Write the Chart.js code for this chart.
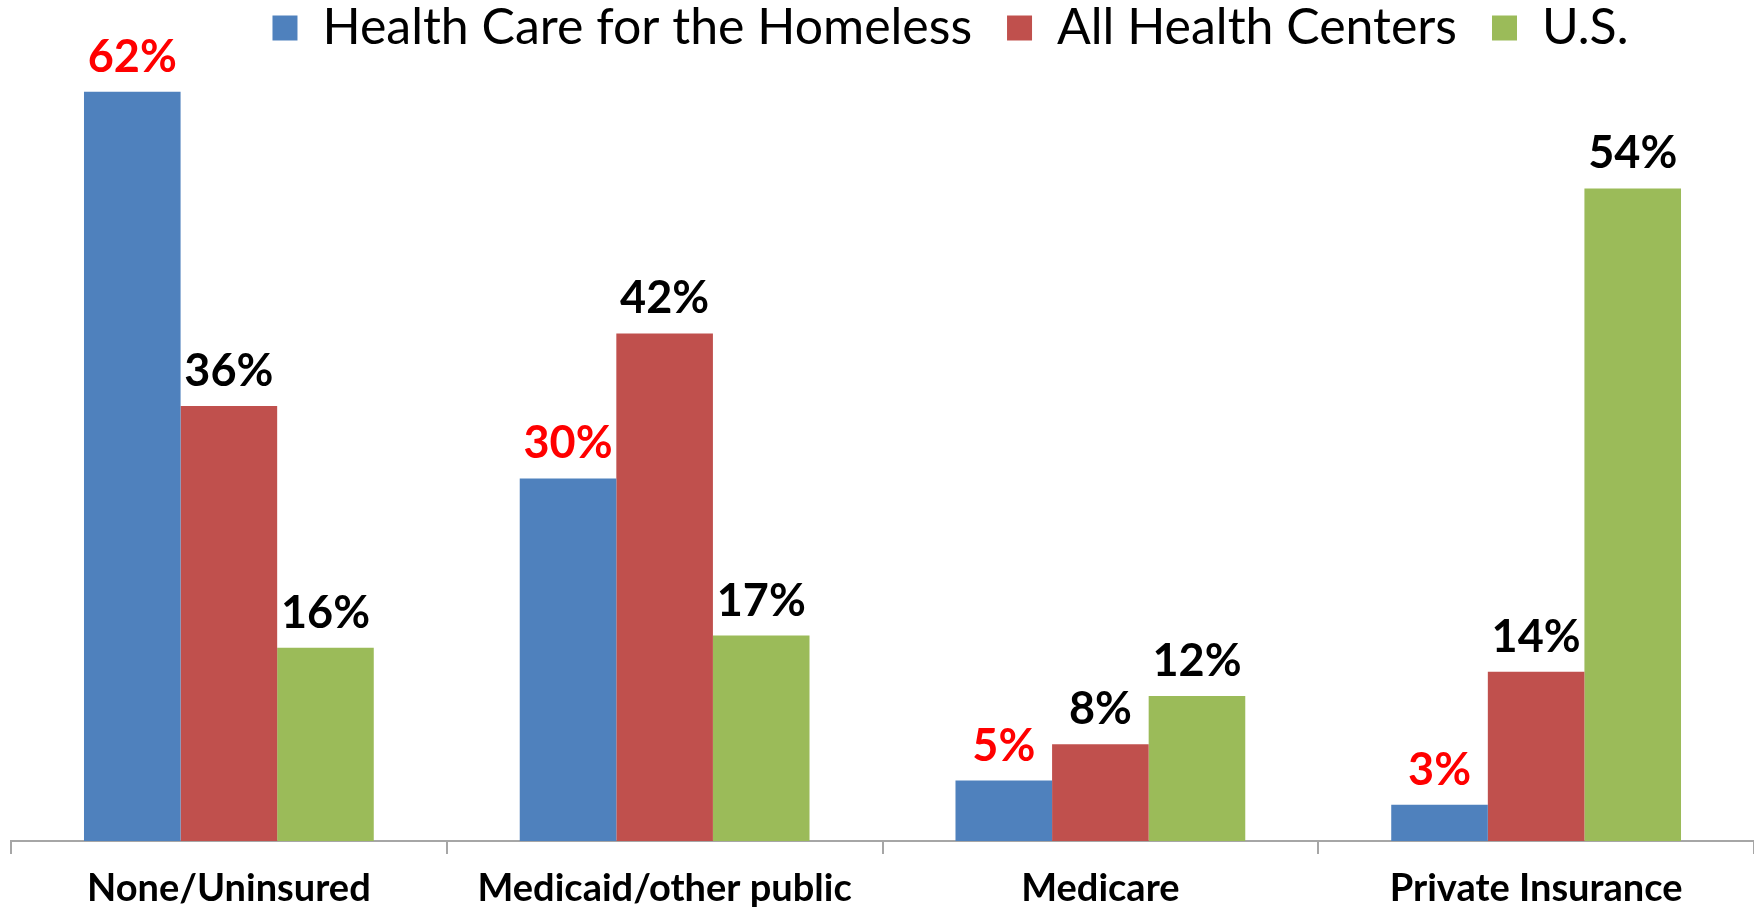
<!DOCTYPE html>
<html>
<head>
<meta charset="utf-8">
<script src="https://cdn.jsdelivr.net/npm/chart.js@4.4.1/dist/chart.umd.min.js"></script>
<style>
    html, body { margin: 0; padding: 0; background: #fff; }
    #wrap { width: 1754px; height: 908px; }
</style>
</head>
<body>
<div id="wrap"><canvas id="payerChart" width="1754" height="908"></canvas></div>
<script>
// ═══════════════ DATA ═══════════════

const categories = ['None/Uninsured', 'Medicaid/other public', 'Medicare', 'Private Insurance'];
const seriesNames = ['Health Care for the Homeless', 'All Health Centers', 'U.S.'];
const hchValues = [62, 30, 5, 3];
const allCentersValues = [36, 42, 8, 14];
const usValues = [16, 17, 12, 54];

const seriesColors = ['#4F81BD', '#C0504D', '#9BBB59'];
const labelColors = ['#FF0000', '#000000', '#000000'];
const FONT = 'Lato, "Open Sans", sans-serif';

// ═══════════════ PLUGINS ═══════════════

// Percent labels above every bar
const barValueLabels = {
    id: 'barValueLabels',
    afterDatasetsDraw(chart) {
        const ctx = chart.ctx;
        ctx.save();
        ctx.font = 'bold 45px ' + FONT;
        ctx.textAlign = 'center';
        ctx.textBaseline = 'bottom';
        chart.data.datasets.forEach((ds, i) => {
            chart.getDatasetMeta(i).data.forEach((bar, j) => {
                ctx.fillStyle = labelColors[i];
                ctx.fillText(ds.data[j] + '%', bar.x, bar.y - 12);
            });
        });
        ctx.restore();
    }
};

// Fixed legend band height + nudge it to match the original placement
const legendBand = {
    id: 'legendBand',
    afterInit(chart) {
        const legend = chart.legend;
        const fit = legend.fit;
        legend.fit = function() {
            fit.call(legend);
            legend.height = 70;
        };
    },
    afterLayout(chart) {
        const legend = chart.legend;
        legend.top = -32;
        legend.left += 68;
        legend.right += 68;
    }
};

// ═══════════════ CHART ═══════════════

new Chart(document.getElementById('payerChart').getContext('2d'), {
    type: 'bar',
    data: {
        labels: categories,
        datasets: [
            { label: seriesNames[0], data: hchValues, backgroundColor: seriesColors[0] },
            { label: seriesNames[1], data: allCentersValues, backgroundColor: seriesColors[1] },
            { label: seriesNames[2], data: usValues, backgroundColor: seriesColors[2] }
        ].map(ds => Object.assign(ds, { barPercentage: 1, categoryPercentage: 0.665, borderWidth: 0 }))
    },
    options: {
        responsive: false,
        animation: false,
        devicePixelRatio: 1,
        layout: { padding: { left: 11, right: 0, top: 0, bottom: 0 } },
        plugins: {
            legend: {
                position: 'top',
                labels: {
                    font: { family: FONT, size: 50 },
                    color: '#000',
                    boxWidth: 25,
                    boxHeight: 25,
                    padding: 35
                }
            },
            tooltip: { enabled: false }
        },
        scales: {
            y: { display: false, min: 0, max: 63.8 },
            x: {
                grid: {
                    offset: true,
                    drawOnChartArea: false,
                    drawTicks: true,
                    tickLength: 13,
                    color: '#A6A6A6',
                    lineWidth: 2
                },
                border: { display: true, color: '#A6A6A6', width: 2 },
                ticks: {
                    font: { family: FONT, size: 38, weight: 'bold' },
                    color: '#000',
                    padding: 12,
                    maxRotation: 0
                },
                afterFit(scale) { scale.height = 67; }
            }
        }
    },
    plugins: [barValueLabels, legendBand]
});
</script>
</body>
</html>
